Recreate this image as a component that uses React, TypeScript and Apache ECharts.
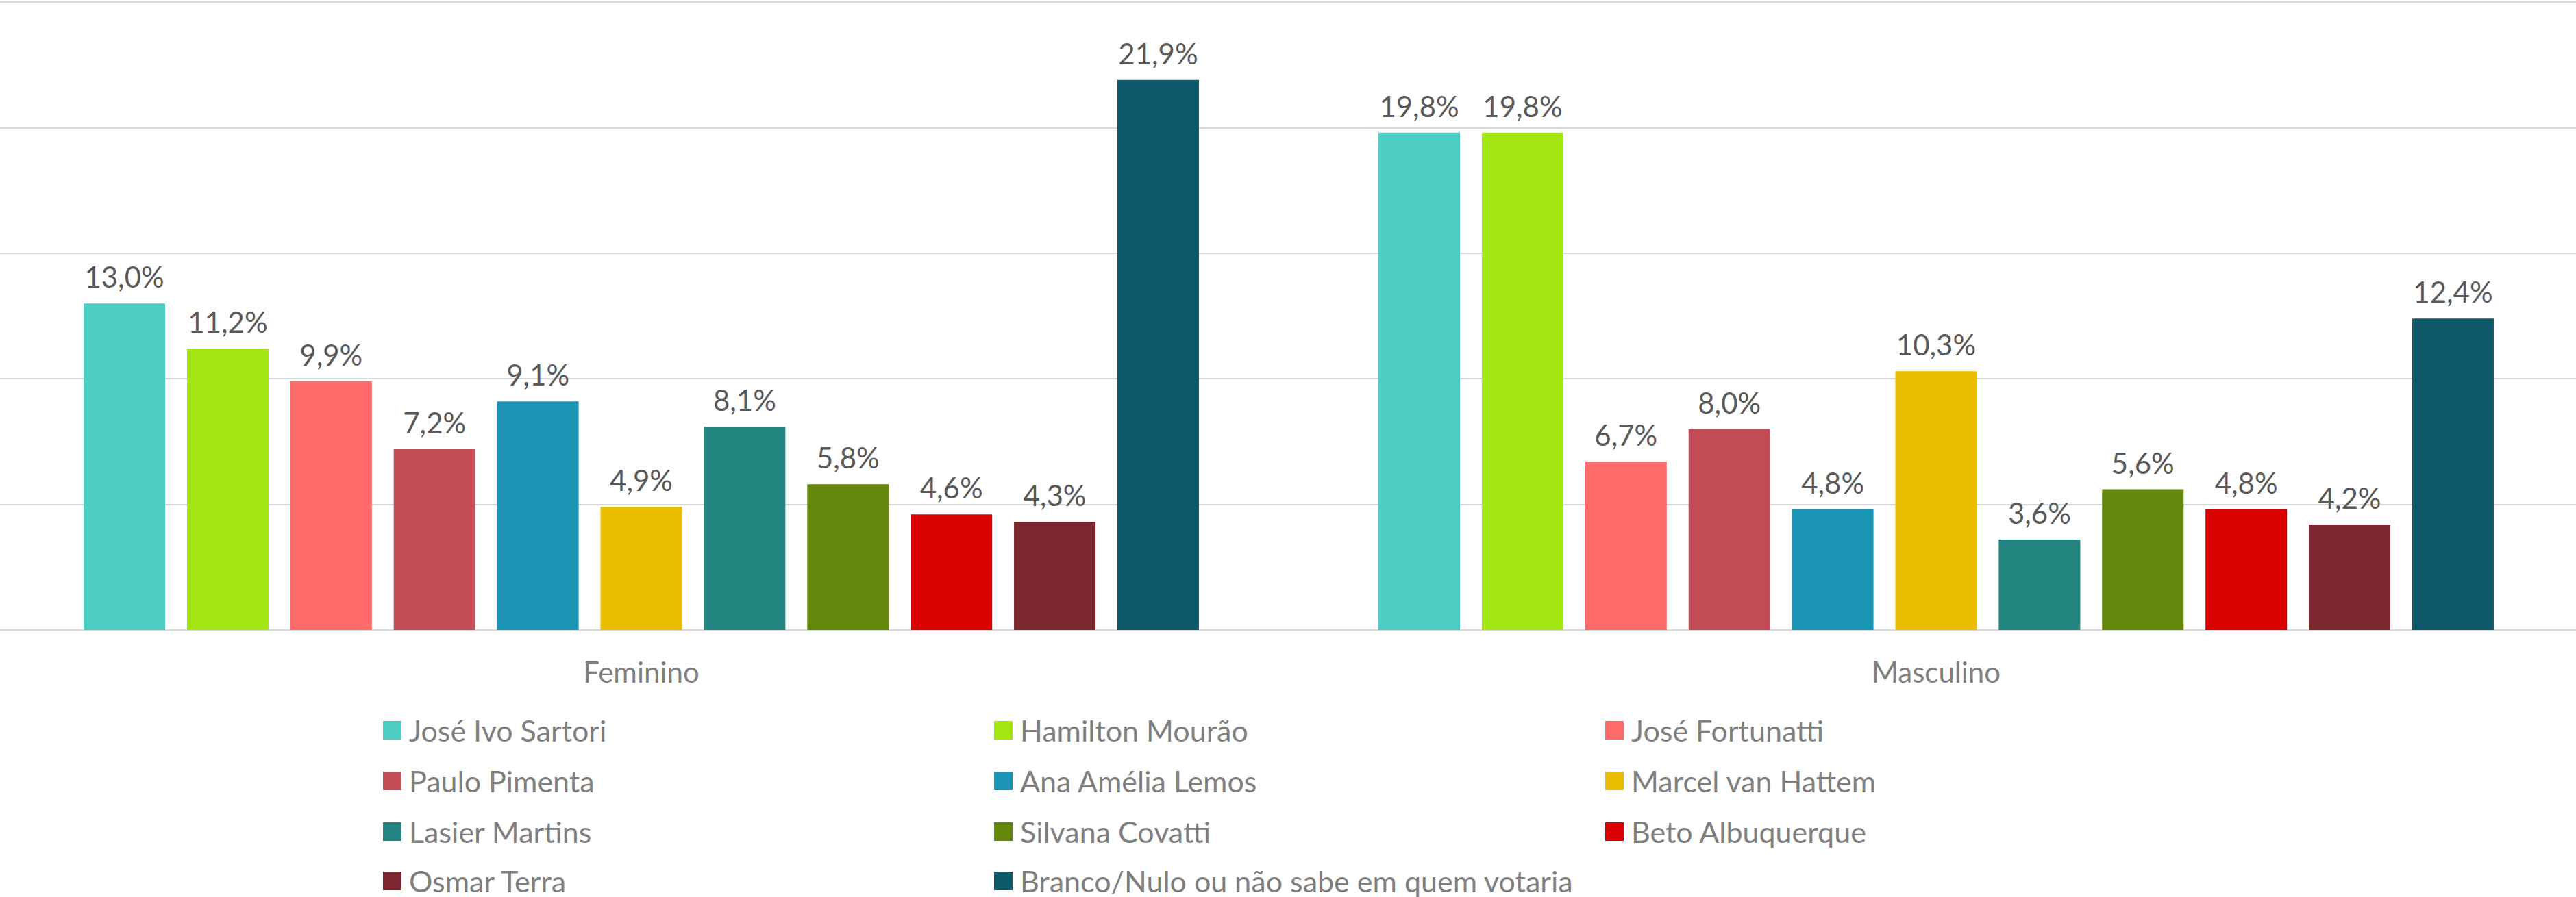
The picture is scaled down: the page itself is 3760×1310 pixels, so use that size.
import React, { useEffect, useRef } from "react";
import * as echarts from "echarts";

// ---- data ----
const categories = ["Feminino", "Masculino"];
const candidates = [
  "José Ivo Sartori",
  "Hamilton Mourão",
  "José Fortunatti",
  "Paulo Pimenta",
  "Ana Amélia Lemos",
  "Marcel van Hattem",
  "Lasier Martins",
  "Silvana Covatti",
  "Beto Albuquerque",
  "Osmar Terra",
  "Branco/Nulo ou não sabe em quem votaria",
];
const feminino = [13.0, 11.2, 9.9, 7.2, 9.1, 4.9, 8.1, 5.8, 4.6, 4.3, 21.9];
const masculino = [19.8, 19.8, 6.7, 8.0, 4.8, 10.3, 3.6, 5.6, 4.8, 4.2, 12.4];
const axisMin = 0;
const axisMax = 25;
const axisInterval = 5;

// ---- styles ----
const palette = [
  "#4ECDC4",
  "#A3E612",
  "#FF6B6B",
  "#C44D58",
  "#1A95B3",
  "#EABD00",
  "#23857F",
  "#63880B",
  "#D80000",
  "#7B2830",
  "#0F596C",
];
const FONT = "Lato";
const SHIFT = 9; // chart div starts 9px left of the page
const fmt = (v: number) => v.toFixed(1).replace(".", ",") + "%";

export default function App() {
  const ref = useRef<HTMLDivElement>(null);
  useEffect(() => {
    if (!ref.current) return;
    const chart = echarts.init(ref.current, undefined, { renderer: "svg" });

    const series = candidates.map((name, i) => ({
      name,
      type: "bar",
      data: [feminino[i], masculino[i]],
      barWidth: 119,
      barGap: "26.8%",
      itemStyle: { color: palette[i] },
      label: {
        show: true,
        position: "top",
        distance: 18,
        formatter: (p: any) => fmt(p.value),
        fontFamily: FONT,
        fontSize: 42,
        lineHeight: 42,
        color: "#595959",
      },
    }));

    // legend laid out as a 3-column grid, one legend per entry
    const colLefts = [559, 1451, 2343];
    const rowCenters = [1063, 1137, 1211, 1283];
    const LH = 36;
    const legends = candidates.map((name, i) => ({
      orient: "horizontal",
      left: colLefts[i % 3] + SHIFT,
      top: rowCenters[Math.floor(i / 3)] - LH / 2,
      padding: 0,
      itemWidth: 27,
      itemHeight: 27,
      icon: "rect",
      selectedMode: false,
      data: [name],
      textStyle: {
        fontFamily: FONT,
        fontSize: 43,
        lineHeight: LH,
        color: "#7f7f7f",
        padding: [0, 0, 0, 6],
      },
    }));

    chart.setOption({
      animation: false,
      backgroundColor: "#ffffff",
      color: palette,
      grid: { left: 0, right: 0, top: 3, bottom: 390, containLabel: false },
      legend: legends,
      xAxis: {
        type: "category",
        data: categories,
        axisTick: { show: false },
        axisLine: { lineStyle: { color: "#d9d9d9", width: 2 } },
        axisLabel: {
          fontFamily: FONT,
          fontSize: 42,
          color: "#7f7f7f",
          margin: 40,
        },
      },
      yAxis: {
        type: "value",
        min: axisMin,
        max: axisMax,
        interval: axisInterval,
        axisLabel: { show: false },
        axisLine: { show: false },
        axisTick: { show: false },
        splitLine: { lineStyle: { color: "#d9d9d9", width: 2 } },
      },
      series,
    });
    return () => chart.dispose();
  }, []);
  return (
    <div
      ref={ref}
      style={{
        position: "fixed",
        left: -SHIFT,
        top: 0,
        width: 3780,
        height: 1310,
      }}
    />
  );
}
